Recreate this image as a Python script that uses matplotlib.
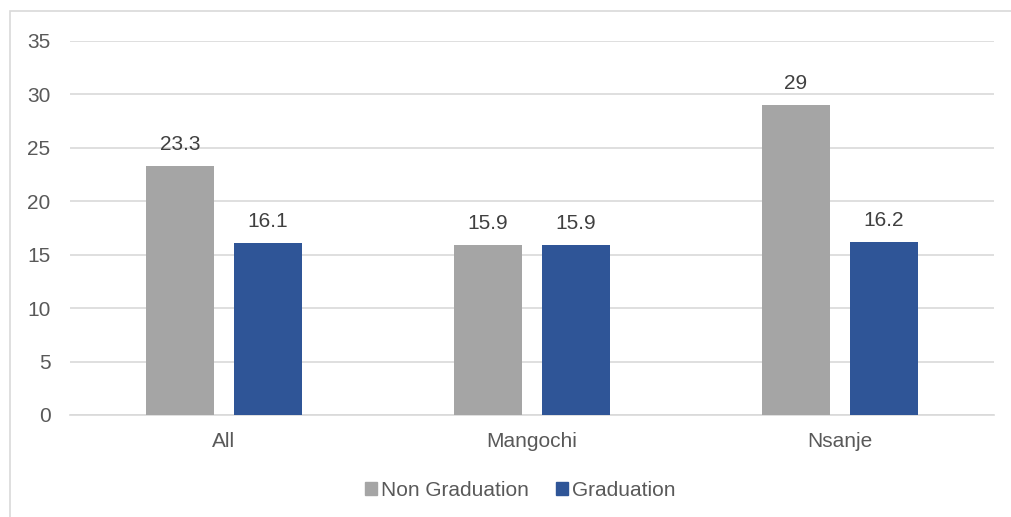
import matplotlib
matplotlib.use("Agg")
import matplotlib.pyplot as plt
from matplotlib.patches import Rectangle, Patch
import numpy as np

categories = ["All", "Mangochi", "Nsanje"]
non_graduation = [23.3, 15.9, 29]
graduation = [16.1, 15.9, 16.2]
yticks = [0, 5, 10, 15, 20, 25, 30, 35]

plt.rcParams["font.family"] = ["Liberation Sans", "DejaVu Sans"]
FS = 15

fig = plt.figure(figsize=(10.12, 5.17), dpi=100)
# chart frame
fig.patches.append(Rectangle((10 / 1012, -0.1), 1.2, 1 - 11 / 517 + 0.1,
                             transform=fig.transFigure, fill=False,
                             edgecolor="#D9D9D9", linewidth=1.2))

ax = fig.add_axes([70 / 1012, 1 - 415 / 517, 924 / 1012, 374 / 517])
x = np.arange(len(categories))
w = 0.221
off = 0.143
gray = "#A5A5A5"
blue = "#2F5597"
b1 = ax.bar(x - off, non_graduation, w, color=gray, zorder=3)
b2 = ax.bar(x + off, graduation, w, color=blue, zorder=3)

for bars, vals in ((b1, non_graduation), (b2, graduation)):
    for r, v in zip(bars, vals):
        ax.annotate(f"{v:g}", (r.get_x() + r.get_width() / 2, v),
                    xytext=(0, 11.5), textcoords="offset points",
                    ha="center", va="baseline", fontsize=FS, color="#404040")

ax.set_xlim(-0.5, 2.5)
ax.set_ylim(0, 35)
ax.set_yticks(yticks)
ax.set_yticklabels([str(t) for t in yticks])
ax.set_xticks(x)
ax.set_xticklabels(categories)
ax.tick_params(axis="both", length=0, labelsize=FS, labelcolor="#595959")
ax.tick_params(axis="y", pad=14)
ax.tick_params(axis="x", pad=12)
ax.grid(axis="y", color="#D9D9D9", linewidth=1.2, zorder=0)
for s in ("top", "right", "left"):
    ax.spines[s].set_visible(False)
ax.spines["bottom"].set_color("#D9D9D9")
ax.spines["bottom"].set_linewidth(1.2)

handles = [Patch(color=gray, label="Non Graduation"),
           Patch(color=blue, label="Graduation")]
fig.legend(handles=handles, loc="center", bbox_to_anchor=(520 / 1012, 1 - 490 / 517),
           ncol=2, frameon=False, fontsize=FS, labelcolor="#595959",
           handlelength=0.57, handleheight=0.57, handletextpad=0.2,
           columnspacing=1.3, borderpad=0)

fig.savefig("out.png", dpi=100)
